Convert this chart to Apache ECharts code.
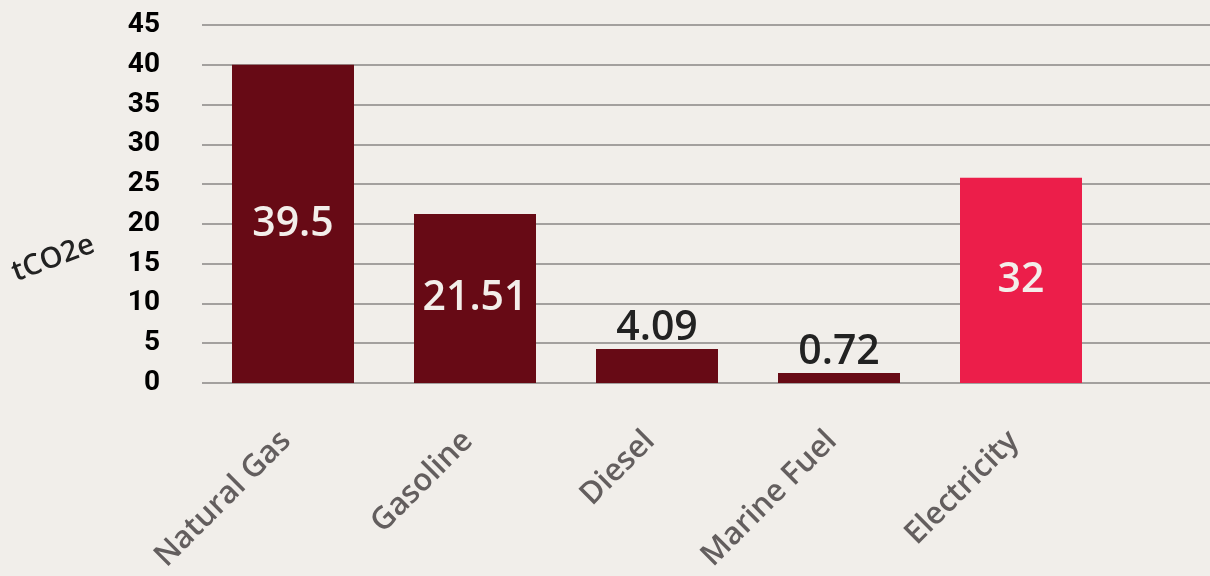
<!DOCTYPE html>
<html>
<head>
<meta charset="utf-8">
<script src="https://cdn.jsdelivr.net/npm/echarts@6/dist/echarts.min.js"></script>
<style>
html,body{margin:0;padding:0;background:#f1eeea;}
#c{width:1210px;height:576px;}
</style>
</head>
<body>
<div id="c"></div>
<script>
var categories = ['Natural Gas', 'Gasoline', 'Diesel', 'Marine Fuel', 'Electricity'];
var barValues = [40, 21.25, 4.27, 1.26, 25.8];
var labelTexts = ['39.5', '21.51', '4.09', '0.72', '32'];
var yTicks = { min: 0, max: 45, interval: 5 };
var axisName = 'tCO2e';

var DARK = '#670a15';
var BRIGHT = '#ec1e4a';

var chart = echarts.init(document.getElementById('c'), null, { renderer: 'canvas' });

var data = barValues.map(function (v, i) {
  var last = i === barValues.length - 1;
  var small = v < 10;
  return {
    value: v,
    itemStyle: { color: last ? BRIGHT : DARK },
    label: small ? {
      position: 'top', distance: 0, color: '#222222'
    } : {
      position: 'inside', color: '#f3eeea'
    }
  };
});

chart.setOption({
  backgroundColor: '#f1eeea',
  animation: false,
  grid: [
    { left: 202, right: 0, top: 25, bottom: 193, containLabel: false },
    { left: 202, width: 910, top: 25, bottom: 193, containLabel: false }
  ],
  xAxis: [
    { gridIndex: 0, type: 'value', show: false, min: 0, max: 1 },
    {
      gridIndex: 1, type: 'category', data: categories,
      axisLine: { show: false }, axisTick: { show: false },
      axisLabel: {
        rotate: 45, margin: 46, color: '#635e5e', padding: [0, 10, 0, 0],
        fontFamily: 'Open Sans', fontWeight: 600, fontSize: 31, interval: 0
      }
    }
  ],
  yAxis: [
    {
      gridIndex: 0, type: 'value', min: yTicks.min, max: yTicks.max, interval: yTicks.interval,
      axisLine: { show: false }, axisTick: { show: false },
      axisLabel: { margin: 42, color: '#000', fontFamily: 'Roboto', fontWeight: 'bold', fontSize: 28 },
      splitLine: { lineStyle: { color: '#a3a09e', width: 2 } }
    },
    {
      gridIndex: 1, type: 'value', min: yTicks.min, max: yTicks.max, interval: yTicks.interval,
      show: false, splitLine: { show: false }
    }
  ],
  graphic: [
    {
      type: 'text', left: 8, top: 230, rotation: 0.36,
      style: { text: axisName, font: '600 29px "Open Sans"', fill: '#222222' }
    }
  ],
  series: [
    {
      type: 'bar', xAxisIndex: 1, yAxisIndex: 1, barWidth: 122,
      data: data,
      label: {
        show: true, fontFamily: 'Open Sans', fontWeight: 600, fontSize: 41,
        formatter: function (p) { return labelTexts[p.dataIndex]; }
      }
    }
  ]
});
</script>
</body>
</html>
